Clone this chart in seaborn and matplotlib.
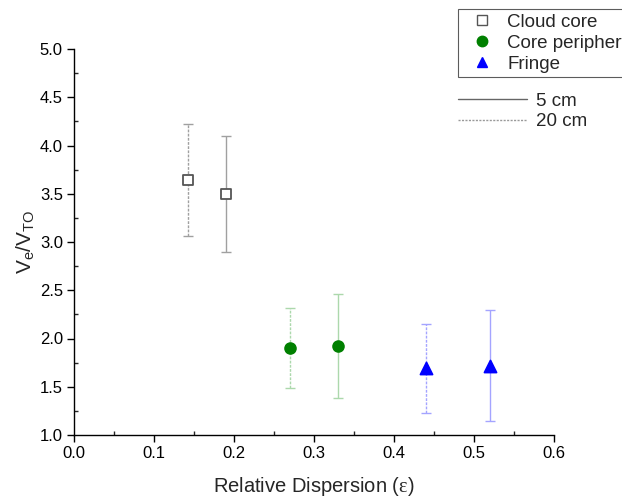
import matplotlib
matplotlib.use("Agg")
import matplotlib.pyplot as plt
import seaborn as sns
import pandas as pd
from matplotlib.lines import Line2D
from matplotlib.ticker import MultipleLocator, FormatStrFormatter

regions = ["Cloud core", "Cloud core", "Core periphery", "Core periphery", "Fringe", "Fringe"]
scales = ["20 cm", "5 cm", "20 cm", "5 cm", "20 cm", "5 cm"]
dispersion = [0.143, 0.19, 0.27, 0.33, 0.44, 0.52]
ratio = [3.64, 3.50, 1.90, 1.92, 1.69, 1.72]
err_high = [4.22, 4.10, 2.32, 2.46, 2.15, 2.30]
err_low = [3.06, 2.90, 1.49, 1.38, 1.23, 1.15]

df = pd.DataFrame({"region": regions, "scale": scales, "x": dispersion, "y": ratio,
                   "hi": err_high, "lo": err_low})

sns.set_theme(style="ticks")
plt.rcParams["font.family"] = ["Liberation Sans", "DejaVu Sans"]
plt.rcParams["mathtext.fontset"] = "custom"
plt.rcParams["mathtext.rm"] = "Liberation Sans"
plt.rcParams["mathtext.it"] = "Liberation Sans"
plt.rcParams["mathtext.sf"] = "Liberation Serif"

fig = plt.figure(figsize=(6.22, 5.0), dpi=100)
ax = fig.add_axes([74/622, 1-435/500, (554-74)/622, (435-49)/500])

style = {
    "Cloud core": dict(marker="s", face="white", edge="#555555", ecol="#a0a0a0", size=55),
    "Core periphery": dict(marker="o", face="green", edge="green", ecol="#acd8ac", size=60),
    "Fringe": dict(marker="^", face="blue", edge="blue", ecol="#a4a4ff", size=75),
}
lstyle = {"5 cm": "-", "20 cm": (0, (2, 1))}

for _, r in df.iterrows():
    s = style[r["region"]]
    cont = ax.errorbar(r["x"], r["y"], yerr=[[r["y"] - r["lo"]], [r["hi"] - r["y"]]],
                       fmt="none", ecolor=s["ecol"], elinewidth=1.0, capsize=3.8,
                       capthick=1.0, zorder=2)
    for lc in cont.lines[2]:
        lc.set_linestyle(lstyle[r["scale"]])

for reg, sub in df.groupby("region", sort=False):
    s = style[reg]
    sns.scatterplot(data=sub, x="x", y="y", ax=ax, marker=s["marker"], s=s["size"],
                    color=s["face"], edgecolor=s["edge"], linewidth=1.3, zorder=3, legend=False)

ax.set_xlim(0, 0.6)
ax.set_ylim(1.0, 5.0)
ax.xaxis.set_major_locator(MultipleLocator(0.1))
ax.xaxis.set_minor_locator(MultipleLocator(0.05))
ax.yaxis.set_major_locator(MultipleLocator(0.5))
ax.yaxis.set_minor_locator(MultipleLocator(0.25))
ax.xaxis.set_major_formatter(FormatStrFormatter("%.1f"))
ax.yaxis.set_major_formatter(FormatStrFormatter("%.1f"))
ax.tick_params(which="major", direction="out", length=5, width=1, labelsize=12,
               colors="black", pad=3)
ax.tick_params(which="minor", direction="in", length=3, width=1)
for sp in ["top", "right"]:
    ax.spines[sp].set_visible(False)
for sp in ["left", "bottom"]:
    ax.spines[sp].set_color("black")
    ax.spines[sp].set_linewidth(1.0)

ax.set_xlabel("Relative Dispersion ($\\mathsf{\u03b5}$)", fontsize=14.5, labelpad=10)
ax.set_ylabel(r"V$_\mathregular{e}$/V$_\mathregular{TO}$", fontsize=15, labelpad=2)

h1 = [Line2D([], [], ls="none", marker="s", mfc="white", mec="#555555", ms=6.5, mew=1.0),
      Line2D([], [], ls="none", marker="o", mfc="green", mec="green", ms=7.5),
      Line2D([], [], ls="none", marker="^", mfc="blue", mec="blue", ms=7.5)]
leg1 = fig.legend(h1, ["Cloud core", "Core periphery", "Fringe"], loc="upper left",
                  bbox_to_anchor=(458/622, 1-9/500), frameon=True, fontsize=13.5,
                  handlelength=2.1, handletextpad=0.28, borderpad=0.25, labelspacing=0.2,
                  fancybox=False, edgecolor="#333333", borderaxespad=0)
leg1.get_frame().set_linewidth(0.8)

h2 = [Line2D([], [], color="#666666", lw=1.0, ls="-"),
      Line2D([], [], color="#999999", lw=1.0, ls=(0, (1.5, 1)))]
leg2 = fig.legend(h2, ["5 cm", "20 cm"], loc="upper left",
                  bbox_to_anchor=(450/622, 1-85/500), frameon=False, fontsize=13.5,
                  handlelength=3.7, handletextpad=0.5, labelspacing=0.2, borderaxespad=0)

fig.savefig("out.png", dpi=100)
